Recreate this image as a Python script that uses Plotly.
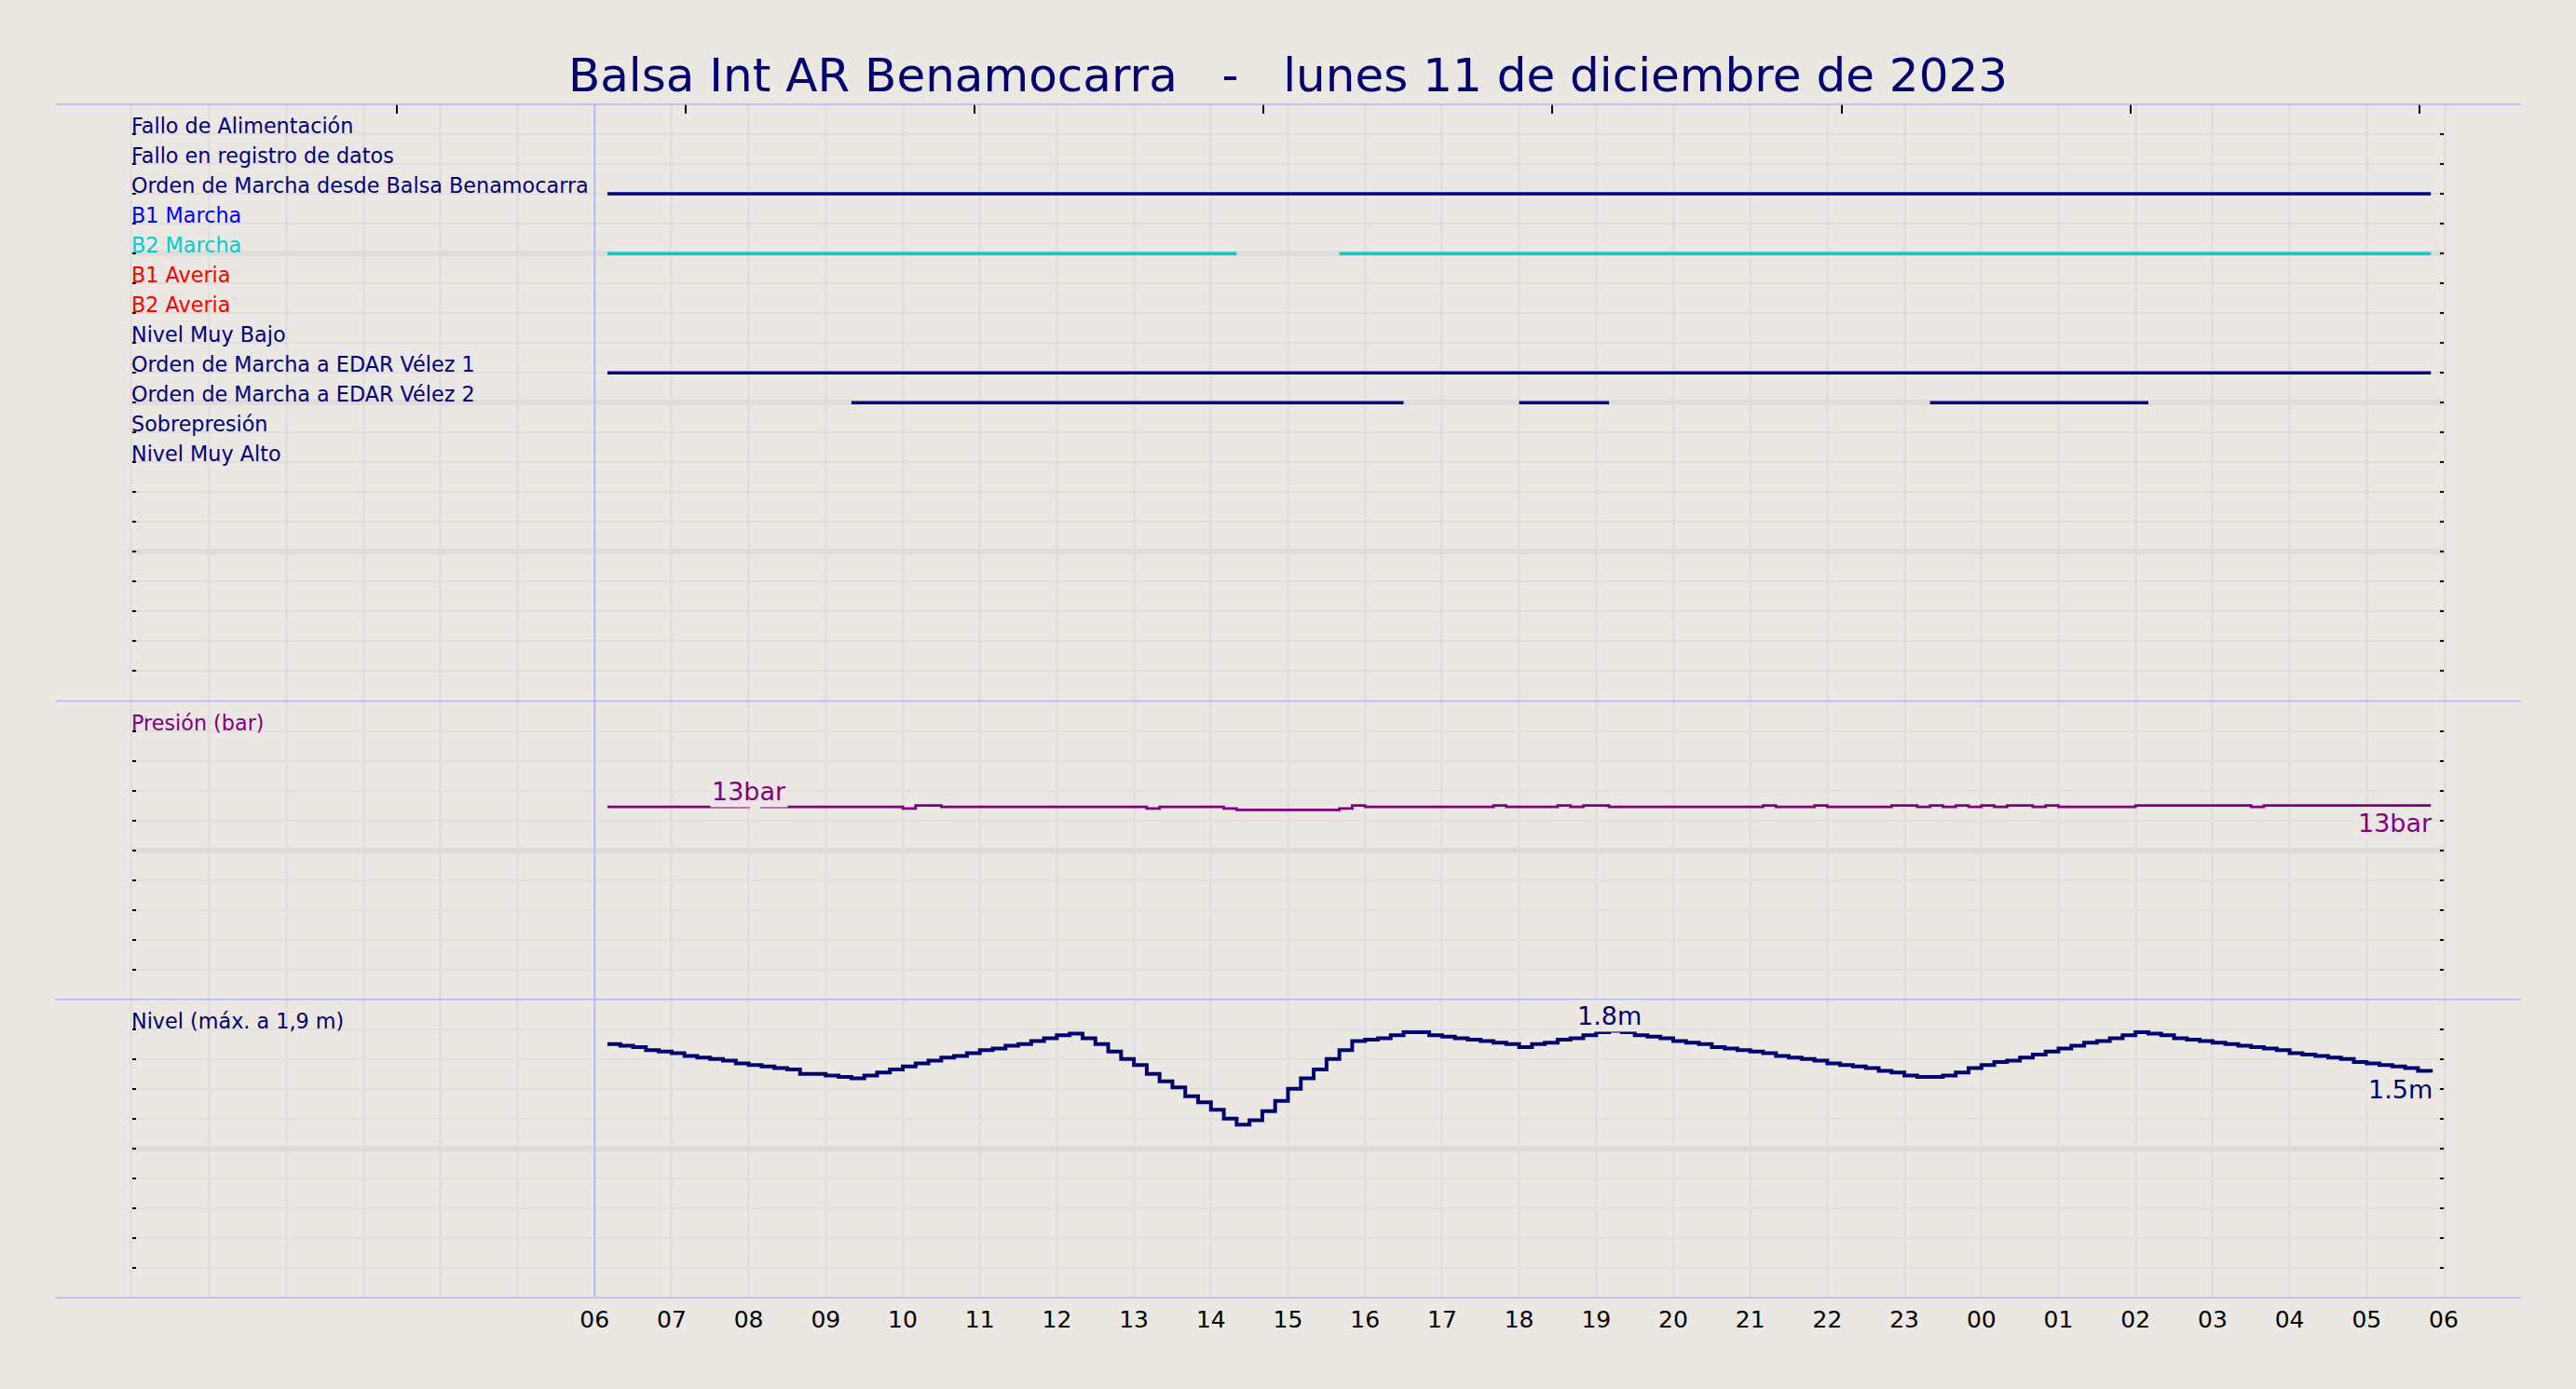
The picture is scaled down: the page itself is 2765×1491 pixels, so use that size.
import pandas as pd
import plotly.graph_objects as go
from plotly.subplots import make_subplots

# ---- data ------------------------------------------------------------------
TITLE = "Balsa Int AR Benamocarra\u00a0\u00a0\u00a0-\u00a0\u00a0\u00a0lunes 11 de diciembre de 2023"

DAY_START = "2023-12-11 00:00"
DAY_END = "2023-12-12 06:00"
FIRST_SAMPLE = "2023-12-11 06:10"
LAST_SAMPLE = "2023-12-12 05:50"

SIGNAL_LABELS = [
    "Fallo de Alimentación",
    "Fallo en registro de datos",
    "Orden de Marcha desde Balsa Benamocarra",
    "B1 Marcha",
    "B2 Marcha",
    "B1 Averia",
    "B2 Averia",
    "Nivel Muy Bajo",
    "Orden de Marcha a EDAR Vélez 1",
    "Orden de Marcha a EDAR Vélez 2",
    "Sobrepresión",
    "Nivel Muy Alto",
]
SIGNAL_COLORS = ["navy", "navy", "navy", "blue", "darkturquoise", "red",
                 "red", "navy", "navy", "navy", "navy", "navy"]

# periods where each digital signal is on (others stay off all day)
ORDEN_BALSA_ON = [("2023-12-11 06:10", "2023-12-12 05:50")]
B2_MARCHA_ON = [("2023-12-11 06:10", "2023-12-11 14:20"),
                ("2023-12-11 15:40", "2023-12-12 05:50")]
EDAR1_ON = [("2023-12-11 06:10", "2023-12-12 05:50")]
EDAR2_ON = [("2023-12-11 09:20", "2023-12-11 16:30"),
            ("2023-12-11 18:00", "2023-12-11 19:10"),
            ("2023-12-11 23:20", "2023-12-12 02:10")]

# 10 minute samples, 06:10 -> 05:50 (one row per hour block)
PRESSURE_BAR = [
    12.9, 12.9, 12.9, 12.9, 12.9, 12.9,   # 06:10-07:00
    12.9, 12.9, 12.9, 12.9, 12.9, 13.0,   # 07:10-08:00
    12.9, 12.9, 12.9, 12.9, 12.9, 12.9,   # 08:10-09:00
    12.9, 12.9, 12.9, 12.9, 12.9, 12.8,   # 09:10-10:00
    13.0, 13.0, 12.9, 12.9, 12.9, 12.9,   # 10:10-11:00
    12.9, 12.9, 12.9, 12.9, 12.9, 12.9,   # 11:10-12:00
    12.9, 12.9, 12.9, 12.9, 12.9, 12.9,   # 12:10-13:00
    12.8, 12.9, 12.9, 12.9, 12.9, 12.9,   # 13:10-14:00
    12.8, 12.7, 12.7, 12.7, 12.7, 12.7,   # 14:10-15:00
    12.7, 12.7, 12.7, 12.8, 13.0, 12.9,   # 15:10-16:00
    12.9, 12.9, 12.9, 12.9, 12.9, 12.9,   # 16:10-17:00
    12.9, 12.9, 12.9, 13.0, 12.9, 12.9,   # 17:10-18:00
    12.9, 12.9, 13.0, 12.9, 13.0, 13.0,   # 18:10-19:00
    12.9, 12.9, 12.9, 12.9, 12.9, 12.9,   # 19:10-20:00
    12.9, 12.9, 12.9, 12.9, 12.9, 12.9,   # 20:10-21:00
    13.0, 12.9, 12.9, 12.9, 13.0, 12.9,   # 21:10-22:00
    12.9, 12.9, 12.9, 12.9, 13.0, 13.0,   # 22:10-23:00
    12.9, 13.0, 12.9, 13.0, 12.9, 13.0,   # 23:10-00:00
    12.9, 13.0, 13.0, 12.9, 13.0, 12.9,   # 00:10-01:00
    12.9, 12.9, 12.9, 12.9, 12.9, 13.0,   # 01:10-02:00
    13.0, 13.0, 13.0, 13.0, 13.0, 13.0,   # 02:10-03:00
    13.0, 13.0, 12.9, 13.0, 13.0, 13.0,   # 03:10-04:00
    13.0, 13.0, 13.0, 13.0, 13.0, 13.0,   # 04:10-05:00
    13.0, 13.0, 13.0, 13.0, 13.0,         # 05:10-05:50
]

LEVEL_M = [
    1.70, 1.69, 1.68, 1.66, 1.65, 1.64,   # 06:10-07:00
    1.62, 1.61, 1.60, 1.59, 1.57, 1.56,   # 07:10-08:00
    1.55, 1.54, 1.53, 1.50, 1.50, 1.49,   # 08:10-09:00
    1.48, 1.47, 1.49, 1.51, 1.53, 1.55,   # 09:10-10:00
    1.57, 1.59, 1.61, 1.62, 1.64, 1.66,   # 10:10-11:00
    1.67, 1.69, 1.70, 1.72, 1.74, 1.76,   # 11:10-12:00
    1.77, 1.74, 1.70, 1.65, 1.60, 1.56,   # 12:10-13:00
    1.50, 1.45, 1.41, 1.35, 1.31, 1.26,   # 13:10-14:00
    1.20, 1.16, 1.19, 1.25, 1.32, 1.40,   # 14:10-15:00
    1.47, 1.53, 1.60, 1.66, 1.72, 1.73,   # 15:10-16:00
    1.74, 1.76, 1.78, 1.78, 1.76, 1.75,   # 16:10-17:00
    1.74, 1.73, 1.72, 1.71, 1.70, 1.68,   # 17:10-18:00
    1.70, 1.71, 1.73, 1.74, 1.76, 1.78,   # 18:10-19:00
    1.79, 1.78, 1.76, 1.75, 1.74, 1.72,   # 19:10-20:00
    1.71, 1.70, 1.68, 1.67, 1.66, 1.65,   # 20:10-21:00
    1.64, 1.62, 1.61, 1.60, 1.59, 1.57,   # 21:10-22:00
    1.56, 1.55, 1.54, 1.52, 1.51, 1.49,   # 22:10-23:00
    1.48, 1.48, 1.49, 1.51, 1.54, 1.56,   # 23:10-00:00
    1.58, 1.59, 1.61, 1.63, 1.65, 1.67,   # 00:10-01:00
    1.69, 1.71, 1.72, 1.74, 1.76, 1.78,   # 01:10-02:00
    1.77, 1.76, 1.74, 1.73, 1.72, 1.71,   # 02:10-03:00
    1.70, 1.69, 1.68, 1.67, 1.66, 1.64,   # 03:10-04:00
    1.63, 1.62, 1.61, 1.60, 1.58, 1.57,   # 04:10-05:00
    1.56, 1.55, 1.54, 1.52, 1.51,         # 05:10-05:50
]

# small marks along the top edge of the signal panel
TOP_TICKS = ["2023-12-11 03:26", "2023-12-11 07:11", "2023-12-11 10:56",
             "2023-12-11 14:41", "2023-12-11 18:26", "2023-12-11 22:11",
             "2023-12-12 01:56", "2023-12-12 05:41"]
LABELLED_FROM = "2023-12-11 06:00"

# ---- styling ---------------------------------------------------------------
BG = "#ebe7e2"
GRID = "#e2dedd"
GRID_MAJOR = "#e0dbdb"
FRAME = "#b4b4f4"
NAVY = "#000070"
PURPLE = "#800080"
FONT = "DejaVu Sans"


def build_figure():
    times = pd.date_range(FIRST_SAMPLE, LAST_SAMPLE, freq="10min")
    hours = pd.date_range(DAY_START, DAY_END, freq="h")
    hour_text = [h.strftime("%H") if h >= pd.Timestamp(LABELLED_FROM) else "" for h in hours]

    fig = make_subplots(rows=3, cols=1, shared_xaxes=True, vertical_spacing=0,
                        row_heights=[0.5, 0.25, 0.25])

    # digital signals
    signal_on = {
        "Orden de Marcha desde Balsa Benamocarra": ORDEN_BALSA_ON,
        "B2 Marcha": B2_MARCHA_ON,
        "Orden de Marcha a EDAR Vélez 1": EDAR1_ON,
        "Orden de Marcha a EDAR Vélez 2": EDAR2_ON,
    }
    for row_no, (label, color) in enumerate(zip(SIGNAL_LABELS, SIGNAL_COLORS), start=1):
        for start, end in signal_on.get(label, []):
            fig.add_trace(go.Scatter(x=[start, end], y=[row_no, row_no], mode="lines",
                                     line=dict(color=color, width=3.5), hoverinfo="skip"),
                          row=1, col=1)
        fig.add_annotation(x=DAY_START, y=row_no, xref="x", yref="y", text=label,
                           showarrow=False, xanchor="left", yanchor="bottom", yshift=-6,
                           xshift=-3, font=dict(size=22.3, color=color, family=FONT))

    # pressure
    fig.add_trace(go.Scatter(x=times, y=PRESSURE_BAR, mode="lines", line_shape="hv",
                             line=dict(color=PURPLE, width=2.8)), row=2, col=1)
    # level
    fig.add_trace(go.Scatter(x=times, y=LEVEL_M, mode="lines", line_shape="hv",
                             line=dict(color=NAVY, width=4)), row=3, col=1)

    fig.add_annotation(x=DAY_START, y=18, xref="x2", yref="y2", text="Presión (bar)",
                       showarrow=False, xanchor="left", yanchor="bottom", yshift=-6,
                       xshift=-3, font=dict(size=22.3, color=PURPLE, family=FONT))
    fig.add_annotation(x=DAY_START, y=1.8, xref="x3", yref="y3", text="Nivel (máx. a 1,9 m)",
                       showarrow=False, xanchor="left", yanchor="bottom", yshift=-6,
                       xshift=-3, font=dict(size=22.3, color=NAVY, family=FONT))

    # value labels: maximum above the line, last value under the line end
    p_max = PRESSURE_BAR.index(max(PRESSURE_BAR))
    l_max = LEVEL_M.index(max(LEVEL_M))
    value_labels = [
        ("x2", "y2", times[p_max], PRESSURE_BAR[p_max], f"{PRESSURE_BAR[p_max]:.0f}bar", PURPLE, "center", "bottom"),
        ("x2", "y2", times[-1], PRESSURE_BAR[-1], f"{PRESSURE_BAR[-1]:.0f}bar", PURPLE, "right", "top"),
        ("x3", "y3", times[l_max], LEVEL_M[l_max], f"{LEVEL_M[l_max]:.1f}m", NAVY, "center", "bottom"),
        ("x3", "y3", times[-1], LEVEL_M[-1], f"{LEVEL_M[-1]:.1f}m", NAVY, "right", "top"),
    ]
    for xr, yr, x, y, txt, col, xa, ya in value_labels:
        fig.add_annotation(x=x, y=y, xref=xr, yref=yr, text=txt, showarrow=False,
                           xanchor=xa, yanchor=ya, bgcolor=BG, borderpad=1,
                           xshift=4 if xa == "right" else 0,
                           yshift=-2 if ya == "bottom" else -1,
                           font=dict(size=27, color=col, family=FONT))

    # x axes: hourly grid everywhere, hour labels under the last panel
    hour_minor = dict(dtick=3600000, tick0=DAY_START, showgrid=True, gridcolor=GRID, gridwidth=2.5)
    fig.update_xaxes(range=[DAY_START, DAY_END], zeroline=False, showline=False)
    fig.update_xaxes(row=1, col=1, side="top", tickmode="array", tickvals=TOP_TICKS,
                     ticks="inside", ticklen=10, tickwidth=1.5, tickcolor="black",
                     showticklabels=False, showgrid=False, minor=hour_minor)
    fig.update_xaxes(row=2, col=1, tickmode="array", tickvals=hours, ticks="",
                     showticklabels=False, showgrid=True, gridcolor=GRID, gridwidth=2.5)
    fig.update_xaxes(row=3, col=1, tickmode="array", tickvals=hours, ticktext=hour_text,
                     ticks="", showticklabels=True, showgrid=True, gridcolor=GRID,
                     gridwidth=2.5, ticklabelstandoff=6,
                     tickfont=dict(size=25, color="black", family=FONT))

    # y axes: one grid row per unit, heavier line every fifth row
    y_common = dict(showticklabels=False, zeroline=False, ticks="inside", ticklen=4,
                    tickwidth=1.5, tickcolor="black", showgrid=True, gridcolor=GRID_MAJOR,
                    gridwidth=6, showline=True, linecolor=GRID, linewidth=3, mirror="ticks",
                    tickmode="linear", tick0=0)
    fig.update_yaxes(row=1, col=1, range=[20, 0], dtick=5,
                     minor=dict(dtick=1, tick0=0, showgrid=True, gridcolor=GRID, gridwidth=2,
                                ticks="inside", ticklen=4, tickcolor="black"),
                     **y_common)
    fig.update_yaxes(row=2, col=1, range=[0, 20], dtick=10,
                     minor=dict(dtick=2, tick0=0, showgrid=True, gridcolor=GRID, gridwidth=2,
                                ticks="inside", ticklen=4, tickcolor="black"),
                     **y_common)
    fig.update_yaxes(row=3, col=1, range=[0, 2], dtick=1,
                     minor=dict(dtick=0.2, tick0=0, showgrid=True, gridcolor=GRID, gridwidth=2,
                                ticks="inside", ticklen=4, tickcolor="black"),
                     **y_common)

    # panel borders and the 06:00 marker
    for y in [0, 0.25, 0.5, 1]:
        fig.add_shape(type="line", xref="paper", yref="paper", x0=-0.0333, x1=1.0335,
                      y0=y, y1=y, line=dict(color=FRAME, width=1.5), layer="above")
    fig.add_shape(type="line", xref="x", yref="paper", x0=LABELLED_FROM, x1=LABELLED_FROM,
                  y0=0, y1=1, line=dict(color=FRAME, width=1.5), layer="above")

    fig.update_layout(
        width=2765, height=1491,
        margin=dict(l=142, r=142, t=112, b=98),
        paper_bgcolor=BG, plot_bgcolor=BG,
        showlegend=False,
        font=dict(family=FONT, color=NAVY),
        title=dict(text=TITLE, x=0.5, xanchor="center", y=1 - 80 / 1491, yanchor="middle",
                   font=dict(size=50, color=NAVY, family=FONT)),
    )
    return fig


if __name__ == "__main__":
    fig = build_figure()
    # page margin off so the figure sits flush with the window
    fig.write_html("out.html", config={"displayModeBar": False},
                   post_script="document.body.style.margin='0';"
                               "document.body.style.background='" + BG + "';")
